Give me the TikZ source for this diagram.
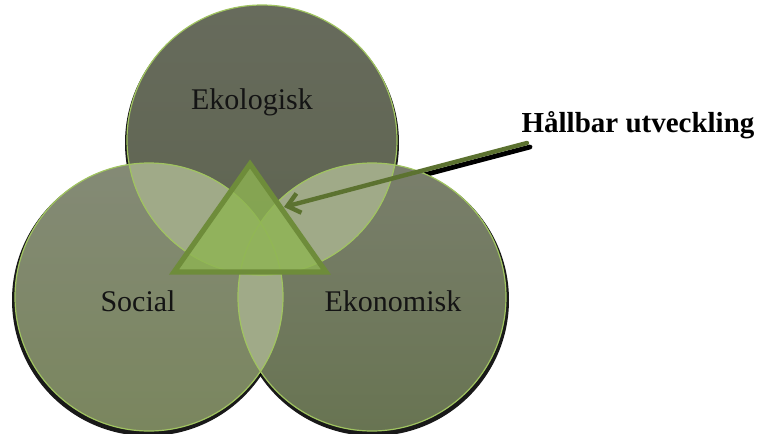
\documentclass[tikz,border=0pt]{standalone}
\usepackage{fontspec}
\setmainfont{Liberation Serif}
\usetikzlibrary{arrows.meta}
\definecolor{rimgreen}{RGB}{160,196,96}
\definecolor{lapgreen}{RGB}{160,170,136}
\definecolor{trifill}{RGB}{142,180,82}
\definecolor{tridraw}{RGB}{110,140,58}
\definecolor{arrowgreen}{RGB}{92,114,48}
\tikzset{>={Straight Barb[length=6pt,width=10pt]}}
\tikzset{
  rim/.style={draw=rimgreen,line width=0.6pt},
  lap/.style={fill=lapgreen},
  shadow/.style={fill=black,opacity=0.9},
  tri/.style={fill=trifill,fill opacity=0.8,draw=tridraw,line width=2.6pt},
  lbl/.style={font=\fontsize{15}{18}\selectfont,text=black!92}
}

\begin{document}
\begin{tikzpicture}[x=0.5pt,y=-0.5pt]
    \useasboundingbox (0,0) rectangle (757,434);

    \coordinate (T) at (262,140);
    \coordinate (L) at (149,297);
    \coordinate (R) at (372,297);
    \coordinate (A) at (250,164);
    \coordinate (B) at (174,272);
    \coordinate (C) at (326,272);
    \coordinate (from) at (527,143);
    \coordinate (to) at (284,207);

    \draw[line width=2.4pt,black,line cap=round]([shift={(3,4)}]from)--([shift={(3,4)}]to);

    \fill[shadow]([shift={(0,3)}]T) circle[radius=68.5pt];
    \fill[shadow]([shift={(-1,3)}]L) circle[radius=68pt];
    \fill[shadow]([shift={(1,3)}]R) circle[radius=68pt];

    \shade[top color={rgb,255:red,103;green,107;blue,92},bottom color={rgb,255:red,94;green,100;blue,80}](T) circle[radius=67.5pt];
    \shade[top color={rgb,255:red,132;green,138;blue,118},bottom color={rgb,255:red,122;green,134;blue,94}](L) circle[radius=67pt];
    \shade[top color={rgb,255:red,122;green,127;blue,108},bottom color={rgb,255:red,104;green,116;blue,82}](R) circle[radius=67pt];

    \begin{scope}
      \clip (T) circle[radius=67.5pt];
      \fill[lap](L) circle[radius=67pt];
      \fill[lap](R) circle[radius=67pt];
    \end{scope}
    \begin{scope}
      \clip (L) circle[radius=67pt];
      \fill[lap](R) circle[radius=67pt];
    \end{scope}

    \draw[rim](T) circle[radius=67.5pt];
    \draw[rim](L) circle[radius=67pt];
    \draw[rim](R) circle[radius=67pt];

    \filldraw[tri](A)--(B)--(C)--cycle;

    \draw[->,line width=2.2pt,arrowgreen,line cap=round](from)--(to);

    \node[lbl] (eko) at (252,102) {Ekologisk};
    \node[lbl] (soc) at (138,301) {Social};
    \node[lbl] (ekn) at (393,301) {Ekonomisk};
    \node[font=\fontsize{14.5}{18}\selectfont\bfseries] (hu) at (638,125) {Hållbar utveckling};
\end{tikzpicture}
\end{document}
